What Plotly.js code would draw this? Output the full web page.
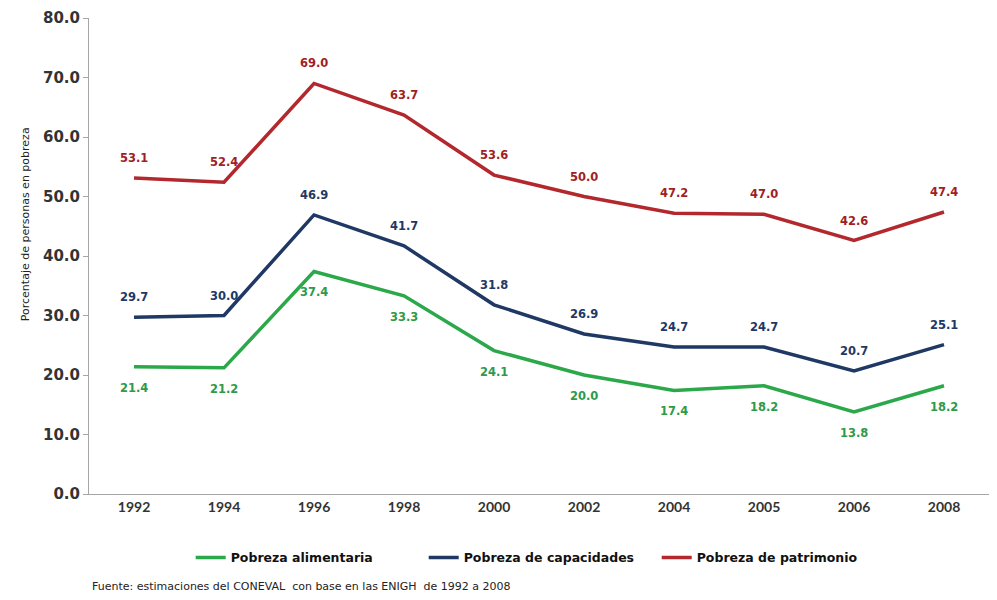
<!DOCTYPE html>
<html>
<head>
<meta charset="utf-8">
<script src="https://cdn.plot.ly/plotly-3.0.1.min.js"></script>
<style>html,body{margin:0;padding:0;background:#fff;}#chart{width:997px;height:600px;}</style>
</head>
<body>
<div id="chart"></div>
<script>
const years = ["1992","1994","1996","1998","2000","2002","2004","2005","2006","2008"];
const alimentaria = [21.4, 21.2, 37.4, 33.3, 24.1, 20.0, 17.4, 18.2, 13.8, 18.2];
const capacidades = [29.7, 30.0, 46.9, 41.7, 31.8, 26.9, 24.7, 24.7, 20.7, 25.1];
const patrimonio = [53.1, 52.4, 69.0, 63.7, 53.6, 50.0, 47.2, 47.0, 42.6, 47.4];
const yTicks = [0,10,20,30,40,50,60,70,80];
const yTickLabels = yTicks.map(v => v.toFixed(1));

const fontFam = "Lato, 'Open Sans', sans-serif";
const wideFam = "'DejaVu Sans', sans-serif";
const defs = [
  {name: 'Pobreza alimentaria', vals: alimentaria, color: '#2BA84A', txt: '#2E9A4A', shift: -21},
  {name: 'Pobreza de capacidades', vals: capacidades, color: '#1F3864', txt: '#1F3864', shift: 20},
  {name: 'Pobreza de patrimonio', vals: patrimonio, color: '#B2282D', txt: '#A01E24', shift: 20}
];
const data = defs.map(d => ({
  x: years, y: d.vals, name: d.name, type: 'scatter', mode: 'lines',
  line: {color: d.color, width: 3.5}, hoverinfo: 'x+y'
}));
const annotations = [];
defs.forEach(d => {
  d.vals.forEach((v, i) => {
    annotations.push({
      x: i, y: v, xref: 'x', yref: 'y', text: v.toFixed(1), showarrow: false,
      yshift: d.shift, xanchor: 'center', yanchor: 'middle',
      font: {family: wideFam, size: 11.5, color: d.txt, weight: 'bold'}
    });
  });
});
annotations.push({
  text: 'Porcentaje de personas en pobreza', textangle: -90,
  xref: 'paper', yref: 'paper', x: -0.071, y: 0.567, xanchor: 'center', yanchor: 'middle',
  showarrow: false, font: {family: wideFam, size: 11, color: '#222'}
});
annotations.push({
  text: 'Fuente: estimaciones del CONEVAL  con base en las ENIGH  de 1992 a 2008',
  xref: 'paper', yref: 'paper', x: 0.001, y: -0.195, xanchor: 'left', yanchor: 'middle',
  showarrow: false, font: {family: wideFam, size: 11, color: '#222'}
});
const layout = {
  width: 997, height: 600,
  margin: {l: 89, r: 8, t: 18, b: 106},
  paper_bgcolor: '#fff', plot_bgcolor: '#fff',
  font: {family: fontFam, color: '#333'},
  showlegend: true,
  legend: {orientation: 'h', x: 0.113, xanchor: 'left', y: -0.134, yanchor: 'middle',
           font: {family: wideFam, size: 12.5, color: '#111', weight: 'bold'}, itemwidth: 30, entrywidth: 188},
  xaxis: {type: 'category', range: [-0.5, 9.5], showgrid: false, zeroline: false,
          showline: true, linecolor: '#A6A6A6', linewidth: 1,
          ticks: 'outside', ticklen: 0, tickcolor: '#A6A6A6',
          tickfont: {family: fontFam, size: 14, color: '#333', weight: 'bold'}},
  yaxis: {range: [0, 80], tickvals: yTicks, ticktext: yTickLabels, showgrid: false, zeroline: false,
          showline: true, linecolor: '#A6A6A6', linewidth: 1,
          ticks: 'outside', ticklen: 5, tickcolor: '#A6A6A6',
          tickfont: {family: wideFam, size: 15, color: '#333', weight: 'bold'}},
  annotations: annotations
};
Plotly.newPlot('chart', data, layout, {displayModeBar: false, staticPlot: true});
</script>
</body>
</html>
